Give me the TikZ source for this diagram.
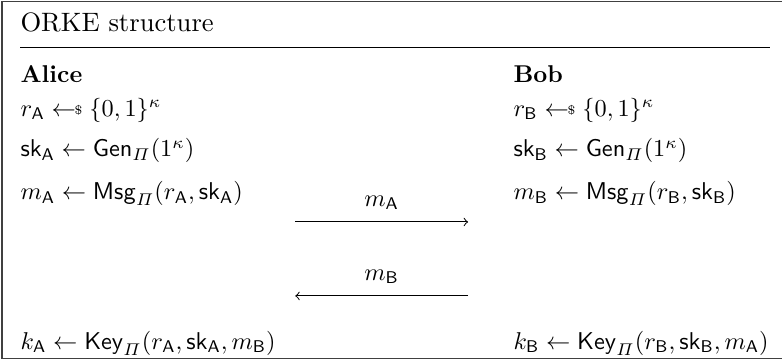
\documentclass[tikz,border=0pt]{standalone}
\usepackage{amsmath, amssymb}
\usepackage{tikz}

\newcommand{\orkesample}{\mathrel{\leftarrow\!\!\vcenter{\hbox{\tiny\$}}}}
\newcommand{\orkePi}{\varPi}

\begin{document}
\begin{tikzpicture}[txt/.style={anchor=base west, inner sep=0pt}, frameline/.style={black!75, line width=0.5pt}]
  \useasboundingbox (0,0) rectangle (11.31,5.22);

  % Frame
  \draw[frameline] (11.31,5.20) -- (0.03,5.20) -- (0.03,0.04) -- (11.31,0.04);

  % Title and rule
  \node[txt] (title) at (0.29,4.77) {\fontsize{10.95}{13}\selectfont ORKE structure};
  \draw[line width=0.5pt] (0.29,4.53) -- (11.13,4.53);

  % Parties
  \node[txt] (alice) at (0.29,4.02) {\textbf{Alice}};
  \node[txt] (bob) at (7.42,4.02) {\textbf{Bob}};

  % Alice's side
  \node[txt] (rA) at (0.29,3.54) {$r_{\mathsf{A}} \orkesample \{0,1\}^{\kappa}$};
  \node[txt] (skA) at (0.29,2.95) {$\mathsf{sk}_{\mathsf{A}} \leftarrow \mathsf{Gen}_{\orkePi}(1^{\kappa})$};
  \node[txt] (msgA) at (0.29,2.33) {$m_{\mathsf{A}} \leftarrow \mathsf{Msg}_{\orkePi}(r_{\mathsf{A}}, \mathsf{sk}_{\mathsf{A}})$};
  \node[txt] (keyA) at (0.29,0.17) {$k_{\mathsf{A}} \leftarrow \mathsf{Key}_{\orkePi}(r_{\mathsf{A}}, \mathsf{sk}_{\mathsf{A}}, m_{\mathsf{B}})$};

  % Bob's side
  \node[txt] (rB) at (7.42,3.54) {$r_{\mathsf{B}} \orkesample \{0,1\}^{\kappa}$};
  \node[txt] (skB) at (7.42,2.95) {$\mathsf{sk}_{\mathsf{B}} \leftarrow \mathsf{Gen}_{\orkePi}(1^{\kappa})$};
  \node[txt] (msgB) at (7.42,2.33) {$m_{\mathsf{B}} \leftarrow \mathsf{Msg}_{\orkePi}(r_{\mathsf{B}}, \mathsf{sk}_{\mathsf{B}})$};
  \node[txt] (keyB) at (7.42,0.17) {$k_{\mathsf{B}} \leftarrow \mathsf{Key}_{\orkePi}(r_{\mathsf{B}}, \mathsf{sk}_{\mathsf{B}}, m_{\mathsf{A}})$};

  % Messages
  \coordinate (sendA) at (4.27,2.01);
  \coordinate (recvB) at (6.77,2.01);
  \coordinate (sendB) at (6.77,0.94);
  \coordinate (recvA) at (4.27,0.94);
  \draw[->] (sendA) -- node[above=1.5pt] (lblA) {$m_{\mathsf{A}}$} (recvB);
  \draw[->] (sendB) -- node[above=1.5pt] (lblB) {$m_{\mathsf{B}}$} (recvA);
\end{tikzpicture}
\end{document}
